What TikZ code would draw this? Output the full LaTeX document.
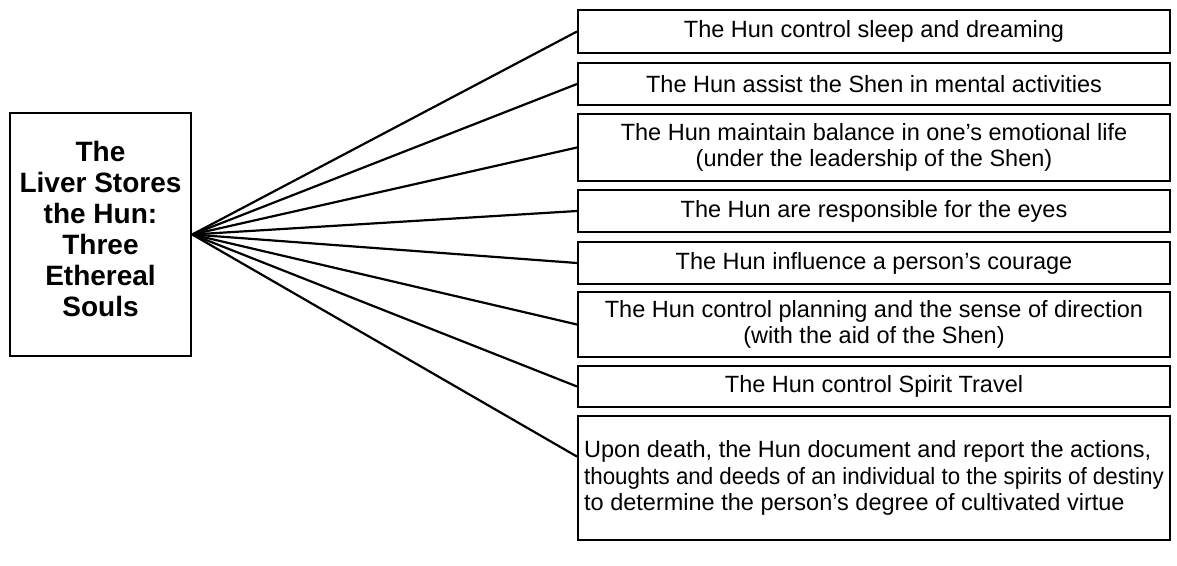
\documentclass[tikz,border=0pt]{standalone}
\usepackage{fontspec}
\usepackage{graphicx}
\setmainfont{Liberation Sans}
\usetikzlibrary{calc}

\tikzset{
    hunbox/.style={draw, line width=2pt, minimum width=592pt, inner sep=0pt,
        align=center, font=\fontsize{23.5}{26.5}\selectfont},
    liverbox/.style={draw, line width=2.4pt, minimum width=181pt, minimum height=243pt, inner sep=0pt},
    spoke/.style={line width=2.2pt}
}

\begin{document}
\begin{tikzpicture}[x=1pt, y=-1pt]
    \useasboundingbox (0, 0) rectangle (1177, 565);

    % 1. 左边的主框 (文字偏上放)
    \node[liverbox] (liver) at (100.5, 234.5) {};
    \node[anchor=north, align=center, inner sep=0pt,
          font=\fontsize{28}{31}\selectfont\bfseries] (title) at (100.5, 141.5)
        {The\\Liver Stores\\the Hun:\\Three\\Ethereal\\Souls};

    % 2. 右边一列的八个框, 纵坐标按框中心给出
    \node[hunbox, minimum height=43pt] (sleep) at (874, 31.5) {The Hun control sleep and dreaming};
    \node[hunbox, minimum height=42pt] (mental) at (874, 84) {The Hun assist the Shen in mental activities};
    \node[hunbox, minimum height=67pt] (balance) at (874, 147.5)
        {The Hun maintain balance in one's emotional life\\(under the leadership of the Shen)};
    \node[hunbox, minimum height=42pt] (eyes) at (874, 211) {The Hun are responsible for the eyes};
    \node[hunbox, minimum height=42pt] (courage) at (874, 263) {The Hun influence a person's courage};
    \node[hunbox, minimum height=65pt] (planning) at (874, 324.5)
        {The Hun control planning and the sense of direction\\(with the aid of the Shen)};
    \node[hunbox, minimum height=41pt] (travel) at (874, 386.5) {The Hun control Spirit Travel};
    % 第二行太长, 横向压一点
    \node[hunbox, minimum height=124pt, align=left] (death) at (874, 478)
        {Upon death, the Hun document and report the actions,\\
         \scalebox{0.95}[1]{thoughts and deeds of an individual to the spirits of destiny}\\
         to determine the person's degree of cultivated virtue};

    % 3. 从主框右边中点放射出去的连线
    \foreach \b in {sleep, mental, balance, eyes, courage, planning, travel}
        \draw[spoke] (liver.east) -- (\b.west);
    \draw[spoke] (liver.east) -- ($(death.north west)!0.33!(death.south west)$);

\end{tikzpicture}
\end{document}
